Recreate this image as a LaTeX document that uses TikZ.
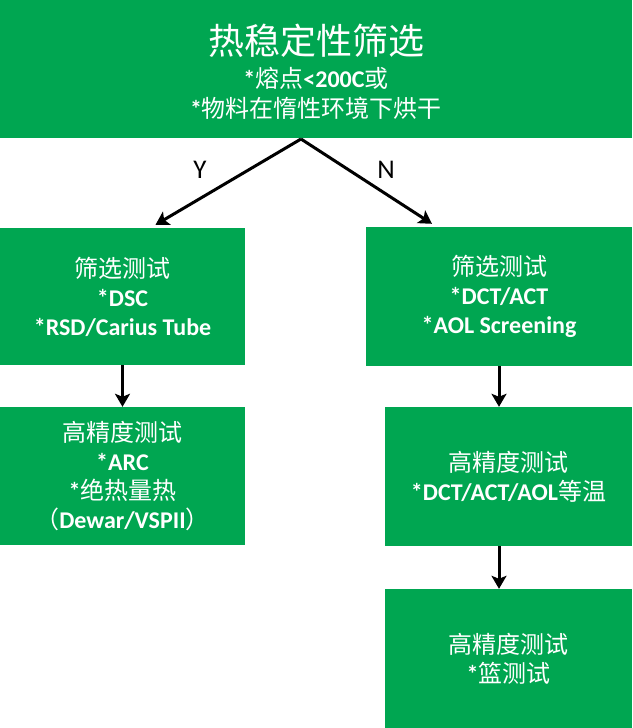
\documentclass[tikz,border=0pt]{standalone}
\usepackage{fontspec}
\setmainfont{Noto Sans CJK SC}
\newfontfamily\latfont{Carlito}
\usetikzlibrary{arrows.meta}
\definecolor{boxgreen}{RGB}{0,166,81}
\newcommand\lt[1]{{\latfont\bfseries #1}}
\begin{document}
\begin{tikzpicture}[x=1pt,y=-1pt,
  box/.style={fill=boxgreen, draw=none, text=white, align=center, inner sep=0pt,
    font=\fontsize{24}{29}\selectfont},
  boxtext/.style={text=white, align=center, inner sep=0pt},
  yn/.style={inner sep=0pt, font=\latfont\fontsize{27}{27}\selectfont},
  arr/.style={line width=3pt, -{Stealth[length=13pt,width=15pt,inset=3pt]}}]
\useasboundingbox (0,0) rectangle (632,728);
% top box
\node[fill=boxgreen, minimum width=632pt, minimum height=138pt, inner sep=0pt] (top) at (316,69) {};
\node[boxtext, font=\fontsize{36}{36}\selectfont] (t1) at (316,41) {热稳定性筛选};
\node[boxtext, font=\fontsize{24}{24}\selectfont] (t2) at (316,78) {\lt{*}熔点\lt{<200C}或};
\node[boxtext, font=\fontsize{24}{24}\selectfont] (t3) at (316,108) {\lt{*}物料在惰性环境下烘干};
% boxes
\node[box, minimum width=245pt, minimum height=137pt] (L1) at (122.5,296.5)
  {筛选测试\\ \lt{*DSC}\\ \lt{*RSD/Carius Tube}};
\node[box, minimum width=266pt, minimum height=139pt] (R1) at (499,296.5)
  {筛选测试\\ \lt{*DCT/ACT}\\ \lt{*AOL Screening}};
\node[box, minimum width=245pt, minimum height=138pt] (L2) at (122.5,476)
  {高精度测试\\ \lt{*ARC}\\ \lt{*}绝热量热\\ （\lt{Dewar/VSPII}）};
\node[box, minimum width=247pt, minimum height=139pt] (R2) at (508.5,476.5)
  {高精度测试\\ \lt{*DCT/ACT/AOL}等温};
\node[box, minimum width=247pt, minimum height=139pt] (R3) at (508.5,658.5)
  {高精度测试\\ \lt{*}篮测试};
% connectors
\coordinate (apex) at (301,139);
\draw[arr] (apex) -- ([xshift=33pt,yshift=3pt]L1.north);
\draw[arr] (apex) -- ([xshift=-67pt,yshift=3pt]R1.north);
\node[yn] (Y) at (200,170) {Y};
\node[yn] (N) at (386,170) {N};
\draw[arr] (L1) -- (L2);
\draw[arr] (R1.south) -- (R1.south |- R2.north);
\draw[arr] (R1.south |- R2.south) -- (R1.south |- R3.north);
\end{tikzpicture}
\end{document}
